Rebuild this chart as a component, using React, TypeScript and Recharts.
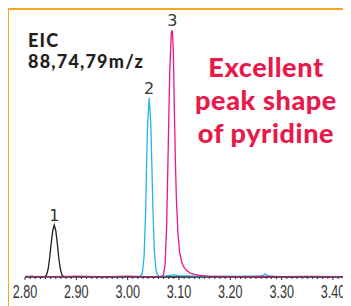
import React from 'react';
import { LineChart, Line, XAxis, YAxis, ReferenceDot } from 'recharts';

// Peak 1 (black trace)
const blackTimes = [2.8, 2.812, 2.825, 2.838, 2.842, 2.845, 2.848, 2.851, 2.854, 2.857, 2.86, 2.863, 2.866, 2.869, 2.872, 2.876, 2.9, 2.95, 3.0, 3.05, 3.1, 3.2, 3.3, 3.425];
const blackValues = [0, 0.2, 0, 0, 0.8, 3, 7.5, 13, 18, 20.2, 18, 13, 7, 3, 0.8, 0, 0.2, 0, 0.2, 0, 0, 0.1, 0, 0];

// Peak 2 (cyan trace)
const cyanTimes = [2.8, 2.9, 3.0, 3.022, 3.026, 3.029, 3.032, 3.035, 3.037, 3.039, 3.042, 3.045, 3.047, 3.049, 3.052, 3.055, 3.058, 3.062, 3.075, 3.09, 3.1, 3.15, 3.2, 3.26, 3.268, 3.276, 3.3, 3.425];
const cyanValues = [0, 0.1, 0, 0, 0.5, 2, 8, 25, 45, 60, 69.6, 60, 45, 28, 10, 3, 0.8, 0.2, 0.4, 0.8, 0.5, 0.2, 0.2, 0.3, 1.2, 0.3, 0.1, 0];

// Peak 3 (magenta trace, pyridine)
const magentaTimes = [2.8, 2.85, 2.9, 2.95, 3.0, 3.05, 3.066, 3.07, 3.073, 3.076, 3.079, 3.082, 3.085, 3.087, 3.089, 3.091, 3.093, 3.095, 3.098, 3.101, 3.105, 3.109, 3.115, 3.122, 3.13, 3.14, 3.15, 3.16, 3.18, 3.22, 3.26, 3.3, 3.35, 3.425];
const magentaValues = [0.2, 0.1, 0.2, 0.1, 0.2, 0.1, 0, 1, 5, 20, 50, 80, 95, 96, 88, 65, 45, 30, 17, 10, 6, 4, 2.5, 1.5, 1, 0.6, 0.4, 0.2, 0.2, 0.1, 0.2, 0.1, 0.2, 0.1];

// Peak labels
const peakLabels = ['1', '2', '3'];
const peakTimes = [2.857, 3.042, 3.087];
const peakHeights = [20.2, 69.6, 96];

// X-axis tick labels
const majorTicks = [2.8, 2.9, 3.0, 3.1, 3.2, 3.3, 3.4];
const minorTicks = Array.from({ length: 63 }, (_, i) => Math.round((2.8 + i * 0.01) * 100) / 100);

const toData = (t: number[], v: number[]) => t.map((x, i) => ({ t: x, v: v[i] }));
const blackData = toData(blackTimes, blackValues);
const cyanData = toData(cyanTimes, cyanValues);
const magentaData = toData(magentaTimes, magentaValues);

const TickMark = (props: any) => {
  const { x, y, payload } = props;
  const val = payload.value as number;
  const isMajor = majorTicks.some((m) => Math.abs(m - val) < 1e-6);
  return (
    <g>
      <line x1={x} x2={x} y1={y} y2={y + (isMajor ? 3 : 2)} stroke="#333" strokeWidth={1} />
      {isMajor && (
        <text
          x={0}
          y={0}
          transform={`translate(${x},${y + 21}) scale(0.7,1)`}
          textAnchor="middle"
          fontFamily="'Liberation Sans', Arial, sans-serif"
          fontSize={18}
          fill="#333"
        >
          {val.toFixed(2)}
        </text>
      )}
    </g>
  );
};

export default function App() {
  return (
    <div style={{ position: 'relative', width: 343, height: 298 }}>
      <div style={{ position: 'absolute', left: -1, top: 0, width: 344, height: 298, borderTop: '2px solid #f7a823', borderLeft: '2px solid #f7a823', boxSizing: 'border-box' }} />
      <div style={{ position: 'absolute', left: 0, top: 0 }}>
        <LineChart width={343} height={298} margin={{ top: 12, right: 5.2, bottom: 0, left: 17 }}>
          <XAxis
            dataKey="t"
            type="number"
            domain={[2.8, 3.425]}
            ticks={minorTicks}
            interval={0}
            tick={<TickMark />}
            tickSize={0}
            tickMargin={0}
            tickLine={false}
            axisLine={{ stroke: '#444', strokeWidth: 1 }}
            height={29}
            allowDataOverflow
          />
          <YAxis type="number" domain={[0, 100]} hide />
          <Line data={blackData} dataKey="v" type="linear" stroke="#231f20" strokeWidth={1.3} dot={false} isAnimationActive={false} />
          <Line data={cyanData} dataKey="v" type="linear" stroke="#22b5e8" strokeWidth={1.3} dot={false} isAnimationActive={false} />
          <Line data={magentaData} dataKey="v" type="linear" stroke="#ec138c" strokeWidth={1.3} dot={false} isAnimationActive={false} />
          {peakLabels.map((lab, i) => (
            <ReferenceDot
              key={lab}
              x={peakTimes[i]}
              y={peakHeights[i]}
              r={0}
              fill="none"
              stroke="none"
              label={{ value: lab, position: 'top', offset: 4, fontFamily: "'DejaVu Sans', sans-serif", fontSize: 16, fill: '#333' }}
            />
          ))}
        </LineChart>
      </div>
      <div
        style={{
          position: 'absolute',
          left: 20,
          top: 21.5,
          fontFamily: "Lato, sans-serif",
          fontWeight: 900,
          fontSize: 18,
          lineHeight: '21.8px',
          letterSpacing: '1.2px',
          color: '#231f20',
          whiteSpace: 'nowrap',
        }}
      >
        EIC
        <br />
        88,74,79m/z
      </div>
      <div
        style={{
          position: 'absolute',
          left: 180,
          width: 156,
          top: 41.5,
          textAlign: 'center',
          fontFamily: "Lato, sans-serif",
          fontWeight: 900,
          fontSize: 27,
          lineHeight: '33px',
          letterSpacing: '0.6px',
          color: '#e8194b',
          whiteSpace: 'nowrap',
        }}
      >
        Excellent
        <br />
        peak shape
        <br />
        of pyridine
      </div>
    </div>
  );
}
